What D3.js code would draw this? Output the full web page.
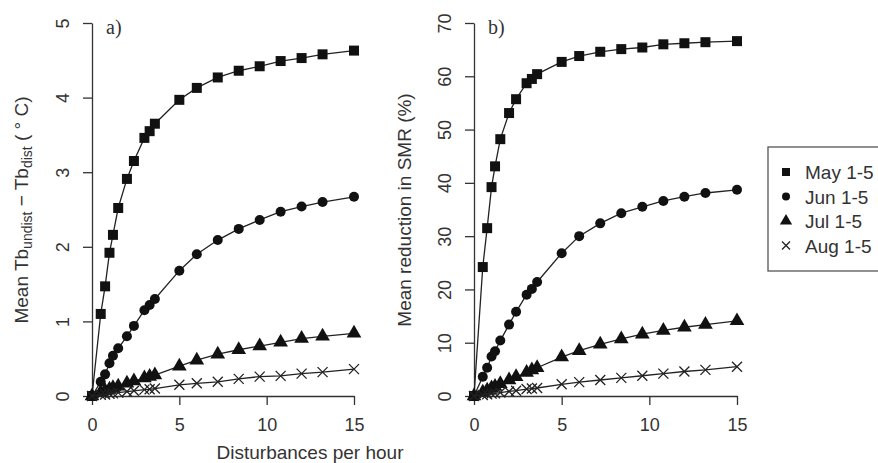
<!doctype html>
<html>
<head>
  <meta charset="UTF-8">
  <title>d3</title>
  <script src="https://d3js.org/d3.v7.min.js"></script>
  <style type="text/css">
    body { margin: 0; background: #fff; }
    text { font-family: "Liberation Sans", Arial, sans-serif; fill: #333; }
    .axis path, .axis line { stroke: #333; stroke-width: 1.3; }
    .axis text { font-size: 18px; }
  </style>
</head>
<body>
<div id="chart"></div>
<script>
// disturbances per hour
var xVals = [0, 0.5, 0.75, 1, 1.2, 1.5, 2, 2.4, 3, 3.3, 3.6, 5, 6, 7.2, 8.4, 9.6, 10.8, 12, 13.2, 15];

// panel a) Tb difference (deg C)
var mayTb = [0, 1.10, 1.47, 1.92, 2.16, 2.52, 2.91, 3.15, 3.46, 3.55, 3.65, 3.97, 4.13, 4.27, 4.36, 4.42, 4.49, 4.53, 4.58, 4.63];
var junTb = [0, 0.19, 0.29, 0.44, 0.54, 0.64, 0.80, 0.94, 1.15, 1.22, 1.30, 1.68, 1.90, 2.09, 2.24, 2.36, 2.47, 2.54, 2.60, 2.67];
var julTb = [0, 0.05, 0.07, 0.09, 0.11, 0.13, 0.17, 0.20, 0.24, 0.26, 0.28, 0.40, 0.48, 0.56, 0.62, 0.67, 0.72, 0.77, 0.80, 0.84];
var augTb = [0, 0.015, 0.02, 0.03, 0.035, 0.045, 0.06, 0.07, 0.085, 0.09, 0.10, 0.15, 0.17, 0.19, 0.23, 0.26, 0.27, 0.30, 0.32, 0.36];

// panel b) reduction in SMR (%)
var maySmr = [0, 24.2, 31.5, 39.2, 43.1, 48.2, 53.1, 55.7, 58.7, 59.5, 60.4, 62.7, 63.8, 64.6, 65.1, 65.4, 66.0, 66.2, 66.4, 66.6];
var junSmr = [0, 3.6, 5.3, 7.4, 8.4, 10.4, 13.4, 15.8, 19.0, 20.1, 21.4, 26.8, 30.0, 32.4, 34.3, 35.5, 36.6, 37.4, 38.1, 38.7];
var julSmr = [0, 0.7, 1.1, 1.5, 1.8, 2.3, 3.0, 3.6, 4.4, 4.9, 5.3, 7.3, 8.5, 9.7, 10.7, 11.6, 12.3, 12.9, 13.4, 14.1];
var augSmr = [0, 0.2, 0.3, 0.45, 0.5, 0.65, 0.85, 1.0, 1.3, 1.4, 1.5, 2.2, 2.6, 3.0, 3.4, 3.8, 4.2, 4.6, 4.9, 5.5];

var seriesNames = ["May 1-5", "Jun 1-5", "Jul 1-5", "Aug 1-5"];
var markers = ["square", "circle", "triangle", "times"];
var xTicks = [0, 5, 10, 15];
var yTicksA = [0, 1, 2, 3, 4, 5];
var yTicksB = [0, 10, 20, 30, 40, 50, 60, 70];

var w = 878, h = 463;

var svg = d3.select("#chart").append("svg")
  .attr("width", w)
  .attr("height", h);

function markerPath(type, s) {
  if (type == "times") {
    var r = s;
    return "M" + (-r) + "," + (-r) + "L" + r + "," + r + "M" + (-r) + "," + r + "L" + r + "," + (-r);
  }
  var sym = { square: d3.symbolSquare, circle: d3.symbolCircle, triangle: d3.symbolTriangle }[type];
  var size = { square: 4 * s * s, circle: Math.PI * s * s, triangle: 2.6 * s * s }[type];
  return d3.symbol().type(sym).size(size)();
}

function drawMarker(g, type, s) {
  var p = g.append("path").attr("d", markerPath(type, s));
  if (type == "times") p.attr("fill", "none").attr("stroke", "#222").attr("stroke-width", 1.3);
  else p.attr("fill", "#111");
}

function panel(xr, yDomain, yTicks, series, label) {
  var x = d3.scaleLinear().domain([0, 15]).range(xr),
    y = d3.scaleLinear().domain(yDomain).range([396, 23]);

  var g = svg.append("g");

  g.append("g")
    .attr("class", "axis")
    .attr("transform", "translate(0,396)")
    .call(d3.axisBottom(x).tickValues(xTicks).tickFormat(d3.format("d"))
      .tickSize(9).tickSizeOuter(0).tickPadding(13));

  var ya = g.append("g")
    .attr("class", "axis")
    .attr("transform", "translate(" + xr[0] + ",0)")
    .call(d3.axisLeft(y).tickValues(yTicks).tickFormat(d3.format("d"))
      .tickSize(9).tickSizeOuter(0));
  ya.selectAll(".tick text")
    .attr("x", 0)
    .attr("text-anchor", "middle")
    .attr("transform", "translate(-23,0) rotate(-90)")
    .attr("dy", "0em");

  var line = d3.line()
    .x(function(d, i) { return x(xVals[i]); })
    .y(function(d) { return y(d); });

  series.forEach(function(s, k) {
    g.append("path")
      .attr("d", line(s))
      .attr("fill", "none")
      .attr("stroke", "#222")
      .attr("stroke-width", 1.3);
    s.forEach(function(v, i) {
      var m = g.append("g").attr("transform", "translate(" + x(xVals[i]) + "," + y(v) + ")");
      drawMarker(m, markers[k], markers[k] == "triangle" ? 6 : 5);
    });
  });

  g.append("text")
    .attr("x", xr[0] + 14)
    .attr("y", 34)
    .style("font-family", "'Liberation Serif', 'Times New Roman', serif")
    .style("font-size", "20px")
    .attr("fill", "#222")
    .text(label);
  return g;
}

panel([92, 354], [0, 5], yTicksA, [mayTb, junTb, julTb, augTb], "a)");
panel([474, 737], [0, 70], yTicksB, [maySmr, junSmr, julSmr, augSmr], "b)");

// y titles
var ta = svg.append("text")
  .attr("transform", "translate(28,210) rotate(-90)")
  .attr("text-anchor", "middle")
  .style("font-size", "19px");
ta.append("tspan").text("Mean  Tb");
ta.append("tspan").attr("dy", 4).style("font-size", "14px").text("undist");
ta.append("tspan").attr("dy", -4).text(" \u2212 Tb");
ta.append("tspan").attr("dy", 4).style("font-size", "14px").text("dist");
ta.append("tspan").attr("dy", -4).text(" ( \u00b0 C)");

svg.append("text")
  .attr("transform", "translate(411,210) rotate(-90)")
  .attr("text-anchor", "middle")
  .style("font-size", "19px")
  .text("Mean reduction in SMR (%)");

// x title
svg.append("text")
  .attr("x", 310)
  .attr("y", 459)
  .attr("text-anchor", "middle")
  .style("font-size", "19px")
  .text("Disturbances per hour");

// legend
var leg = svg.append("g");
leg.append("rect")
  .attr("x", 768).attr("y", 147)
  .attr("width", 130).attr("height", 124)
  .attr("fill", "none")
  .attr("stroke", "#555")
  .attr("stroke-width", 1.3);
seriesNames.forEach(function(n, k) {
  var yy = 172 + k * 24.5;
  var m = leg.append("g").attr("transform", "translate(786," + yy + ")");
  drawMarker(m, markers[k], markers[k] == "triangle" ? 5 : 4);
  leg.append("text")
    .attr("x", 805).attr("y", yy + 7)
    .style("font-size", "19px")
    .text(n);
});
</script>
</body>
</html>
